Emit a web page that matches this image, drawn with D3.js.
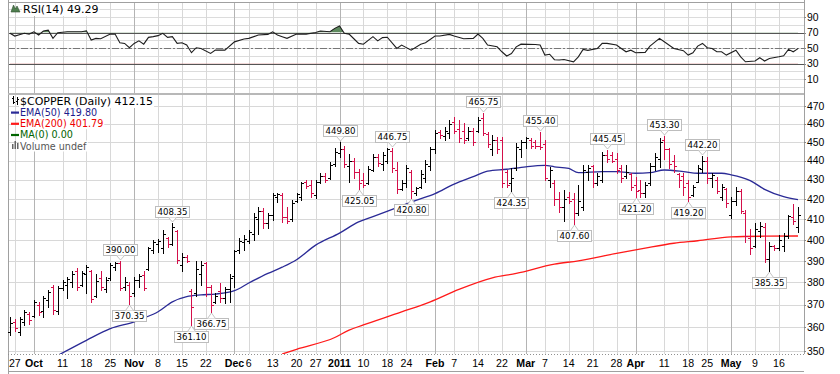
<!DOCTYPE html>
<html>
<head>
<meta charset="utf-8">
<script src="https://cdn.jsdelivr.net/npm/d3@7"></script>
<style>
  body { margin: 0; background: #fff; }
  svg { display: block; }
</style>
</head>
<body>
<script>
// $COPPER daily OHLC, Sep 24 2010 .. May 20 2011

var startDay = '2010-09-24', endDay = '2011-05-20';
var holidays = ['2010-11-25', '2010-12-24', '2011-01-17', '2011-02-21', '2011-04-22'];

var opens = [358,362.5,358,362.5,366,365,370,367,372,378,367,377.5,379,380,385,379,384,385,374,382,
  377,382,387,389,378,379,375,381,383.5,386,395,398,396,401,398,404,388,392,376,375,
  384,389,378,371,376,373,377,383,395,399,399.5,403,410,414,408,412,421,422,411,410,
  419,421,429,427,422,429,432,431,438,444,446,437,440,434,430,428,435,442,438,440,
  445,435,425,428,434,423,426,431,437,446,455.5,453,455,461,457,456,452,456,456,463,
  454,446,451,451,434,428,436,446,450,451,450,448,449,430,428,420,416,421,420,413,
  416,434,437,428,430,443,443,441,436,432,433,427,424.5,423,428,437,441,451,446,440,
  433,432,428,422,429,435.5,440,431,430,421,425,412,419,424,413,401,397,404,406,391,
  397,396,397,402,411,406];
var highs = [364.5,363.5,364.5,367.5,366.5,372,371,374,376.5,379,378.5,381,382.5,385,386.5,385,388,385.5,384,385,
  382.5,389,389.6,390,382.5,380,382.5,384,385,396.6,400,400.5,404.7,401.5,408.35,404.7,393.5,392.5,377,389.8,
  389.8,389.5,379,375,379.5,378,384,395,401,402.5,404.7,413,416,415.5,413,423,423,423,416,419.6,
  423,429,430,430,430,433.5,433.5,439,446.5,449.8,447.5,443.5,441.5,435.5,433.5,437,443.5,443.5,444.5,446.5,
  446.75,439.4,429.8,437.6,435,426.4,435,440.3,447.4,456.5,456.5,458.3,462,463.8,462,460.2,458.3,457.4,463.8,465.75,
  455.5,453.7,452.8,452.8,435,435.9,449.2,451,452.8,452,451,455.4,451,436.7,430,423.8,424.7,423.8,423,427.2,
  437.6,437.6,437.5,433.3,444.7,445.45,444.7,443.8,437.6,437.6,433.5,431.5,429.8,429,438.5,443.8,451.9,453.3,446.5,443,
  433.5,433.3,429.8,427.2,437.6,442.2,442,433.5,431.5,427.8,425.5,421.3,426.4,425.2,414.5,405,408,408.7,408,399,
  397.5,402.3,403.1,412,417.5,416];
var lows = [356.7,358.5,356.5,361,361.5,364.5,365.5,364.5,369,366,366,376.5,373,378,376.5,378.5,375,371,373.5,376.5,
  375.5,381,385.5,376.5,376.5,370.35,374,378,376.5,385.5,393.5,394,393.5,396.6,397.5,388.8,385,389.6,361.1,373.6,
  378.7,374,366.75,370.5,371,370.5,371,378,393.5,395,398.3,400,403,405.5,405.5,409.6,418.8,408.7,408,409,
  418.5,419.6,425.5,421,420.5,428.5,429,430.5,437,441.8,436.5,429,431,425.05,426,427.5,434.5,437,435,438.5,
  434,423,424.7,426.4,420.8,422,425.5,429,435,443.8,452,451,452,454.6,450,449.2,451,448.3,455.5,453.7,
  447.4,442.9,443.8,426.4,426.4,424.35,435,442,446.5,446.5,446.5,446,429.8,426.4,417,413.7,409.1,418,407.6,412,
  414.5,429.8,426.4,427.2,428.9,439.4,439.4,433.3,428.9,430.7,424.7,421.2,421.3,421.3,427.2,435,436.7,441,435.9,434,
  426.4,422,419.2,421.5,428.9,434.2,428,426.4,423,419.6,416.2,410.4,417.1,412.9,399,393,396.7,401.5,389.6,385.35,
  395.2,395.2,394.4,401,407.5,403.5];
var closes = [362,359.5,363.5,366.5,363,371,366.5,373,375.5,367.5,377.5,380,381.5,384,378,384.5,387,372.5,380.5,378,
  381,388,389,377.5,380,374,381,383,377.5,396,399,399.5,403,398,406,390.5,392,390,369,386,
  388,378,370,374,373,377,382,394.5,399.5,400.5,403.5,411,414,408,412,422,422.5,411,409,418,
  422.5,428.5,426.5,423,429,432,430,437.5,444.5,446,438,440,434,428,427,435.5,442,438.5,443,446,
  436,425,428.5,436,424,425.5,433,438,446,455,453.5,456,460,456,452,451,456,450,462,455,
  449,451,446,428,427,431,447,450,452,448,447.5,447,431,435,420,416,420,419,413,419,
  435,436,428,432,443,441,440,435,431,434,426,424,423,427,437,442,450,446,438,437,
  430,426,421,426,436,440,431,432.5,424,426,418,419,424,414,402,396,405,406.5,391,397,
  396,400,402,411.5,409,412.15];

var ema50At = [10,16,21,26,28,31,34,37,40,43,47,50,54,57,60,64,69,73,76,81,85,89,93,97,100,104,108,112,114,117,119,124,127,131,134,137,141,144,149,151,155,158,162,165];
var ema50Val = [348,354.4,359.4,362.4,364,366.8,371.2,373.5,374.3,374.7,376.2,379.7,384.1,387,390.5,397.4,403.2,408.7,411.3,415.8,419.4,422.8,427.7,431.5,434.4,435.4,436.7,437.4,436.7,435.8,433.6,434.2,434.2,433.3,433.6,435,434.2,433.3,433.3,432.5,429.5,425,421.3,419.8];

var ema200At = [57,60,68,71,74,82,88,94,101,106,114,119,127,133,139,144,151,158,165];
var ema200Val = [348.6,350.6,355.6,358.8,361,366.7,371.2,376.8,382.1,384.1,388.4,390,393.5,396,398.3,399.5,401.4,401.7,401.79];

var rsiAt = [0,1,3,4,5,6,7,8,9,10,12,14,15,16,17,18,19,21,22,23,24,25,26,27,28,29,30,31,32,33,34,35,36,37,38,39,40,42,43,45,
  47,49,50,52,54,55,56,57,58,60,62,64,65,67,68,69,70,71,72,73,74,76,77,78,79,81,82,84,86,87,89,90,92,93,95,97,98,99,100,102,
  103,104,105,106,107,110,111,112,113,114,115,116,118,119,120,121,123,124,125,127,128,129,130,131,133,134,136,137,139,141,142,143,144,145,146,147,148,149,150,152,
  153,154,156,157,158,159,161,162,163,164,165];
var rsiVal = [69,65.5,69,68,71,66.8,72,73,62.5,69.8,71,71,71,72.3,60.3,62.5,62,68,68,56.9,56,50.4,56,59.3,55,63.8,64.7,66,69,63.8,64.7,56,56.9,53.9,44,50.4,49.5,43,47.3,47.3,
  58,61.7,62.5,66.8,67.6,71,66.8,64.6,62.5,68,68,70,72,71,75.4,78.4,69,68,62,56,55,64.7,59.3,63.5,64,49.5,53.9,47.3,55,56.9,65.5,65.5,67.6,65.5,62,62.5,68,62.5,53.9,51.6,
  45.2,39.7,43,51.6,55,54.6,53.9,41,42,35,34.5,35.3,32.3,38.7,48.3,47,49.5,56,56,53.9,49.5,45.2,47.3,44,44.4,52.5,62.5,58.2,49.5,46.6,40.9,44,52.5,56,50.4,49.5,45.2,45.2,40.9,47.3,
  38.7,32.3,33.2,37.5,33.2,36.6,38.7,40,48.3,45.2,49.29];

var tickDays = ['2010-09-27','2010-10-01','2010-10-11','2010-10-18','2010-10-25','2010-11-01','2010-11-08','2010-11-15','2010-11-22',
  '2010-12-01','2010-12-06','2010-12-13','2010-12-20','2010-12-27','2011-01-03','2011-01-10','2011-01-18','2011-01-24',
  '2011-02-01','2011-02-07','2011-02-14','2011-02-22','2011-03-01','2011-03-07','2011-03-14','2011-03-21','2011-03-28',
  '2011-04-01','2011-04-11','2011-04-18','2011-04-25','2011-05-02','2011-05-09','2011-05-16'];
var tickLabels = ['27','Oct','11','18','25','Nov','8','15','22','Dec','6','13','20','27','2011','10','18','24',
  'Feb','7','14','22','Mar','7','14','21','28','Apr','11','18','25','May','9','16'];

var priceTicks = [350,360,370,380,390,400,410,420,430,440,450,460,470];
var rsiTicks = [10,30,50,70,90];

// labelled swing highs (h) and lows (l), by bar
var noteAt = [23,25,34,38,42,69,73,80,84,99,105,111,118,125,131,137,142,145,159];
var noteSide = ['h','l','h','l','l','h','l','h','l','h','l','h','l','h','l','h','l','h','l'];

var emaNames = ['EMA(50)', 'EMA(200)'];

// ---------------------------------------------------------------

var parse = d3.utcParse('%Y-%m-%d'), fmt = d3.utcFormat('%Y-%m-%d');
var days = d3.utcDay.range(parse(startDay), d3.utcDay.offset(parse(endDay), 1))
  .filter(function(d) { return d.getUTCDay() % 6 !== 0 && holidays.indexOf(fmt(d)) < 0; })
  .map(fmt);
var n = closes.length;

var left = 8, right = 804;
var rsiTop = 2, rsiBottom = 94, mainTop = 94, mainBottom = 354;

var x = d3.scaleLinear().domain([0, n - 1]).range([10, 798]);
var y = d3.scaleLog().domain([350, 470]).range([350.7, 105.7]);
var ry = d3.scaleLinear().domain([0, 100]).range([86.8, 9.3]);

var svg = d3.select('body').append('svg')
  .attr('width', 840).attr('height', 374);

var defs = svg.append('defs');
defs.append('clipPath').attr('id', 'clipMain').append('rect')
  .attr('x', left).attr('y', mainTop).attr('width', right - left).attr('height', mainBottom - mainTop);
defs.append('clipPath').attr('id', 'clipHi').append('rect')
  .attr('x', left).attr('y', rsiTop).attr('width', right - left).attr('height', ry(70) - rsiTop);
defs.append('clipPath').attr('id', 'clipLo').append('rect')
  .attr('x', left).attr('y', ry(30)).attr('width', right - left).attr('height', rsiBottom - ry(30));

var crisp = function(v) { return Math.round(v) + 0.5; };

// grid
var grid = svg.append('g').attr('shape-rendering', 'crispEdges');
var tickIdx = tickDays.map(function(d) { return days.indexOf(d); });
var isMajor = function(lbl) { return isNaN(+lbl) || lbl.length === 4; };

grid.selectAll('line.rg').data(d3.range(0, 101, 10)).join('line')
  .attr('class', 'rg')
  .attr('x1', left).attr('x2', right)
  .attr('y1', function(d) { return crisp(ry(d)); }).attr('y2', function(d) { return crisp(ry(d)); })
  .attr('stroke', '#dcdcdc');

grid.selectAll('line.pg').data(priceTicks).join('line')
  .attr('class', 'pg')
  .attr('x1', left).attr('x2', right)
  .attr('y1', function(d) { return crisp(y(d)); }).attr('y2', function(d) { return crisp(y(d)); })
  .attr('stroke', '#d8d8d8');

grid.selectAll('line.vg').data(tickIdx).join('line')
  .attr('class', 'vg')
  .attr('x1', function(d) { return crisp(x(d)); }).attr('x2', function(d) { return crisp(x(d)); })
  .attr('y1', rsiTop).attr('y2', mainBottom)
  .attr('stroke', function(d, i) { return isMajor(tickLabels[i]) ? '#b4b4b4' : '#d8d8d8'; });

// rsi reference lines
grid.selectAll('line.rl').data([70, 30]).join('line')
  .attr('class', 'rl')
  .attr('x1', left).attr('x2', right)
  .attr('y1', function(d) { return crisp(ry(d)); }).attr('y2', function(d) { return crisp(ry(d)); })
  .attr('stroke', '#555');
grid.append('line')
  .attr('x1', left).attr('x2', right)
  .attr('y1', crisp(ry(50))).attr('y2', crisp(ry(50)))
  .attr('stroke', '#777').attr('stroke-dasharray', '7,2,2,2');

// frame
var frame = svg.append('g').attr('shape-rendering', 'crispEdges').attr('fill', 'none');
frame.append('line').attr('x1', left + 0.5).attr('x2', left + 0.5).attr('y1', 0).attr('y2', 374).attr('stroke', '#a0a0a0');
frame.append('line').attr('x1', right + 0.5).attr('x2', right + 0.5).attr('y1', 0).attr('y2', mainBottom).attr('stroke', '#a0a0a0');
frame.append('line').attr('x1', left).attr('x2', right).attr('y1', rsiTop + 0.5).attr('y2', rsiTop + 0.5).attr('stroke', '#a0a0a0');
frame.append('rect').attr('x', left).attr('y', rsiBottom - 1).attr('width', right - left).attr('height', 2).attr('fill', '#b8b8b8');
frame.append('line').attr('x1', left).attr('x2', right).attr('y1', mainBottom + 0.5).attr('y2', mainBottom + 0.5)
  .attr('stroke', '#909090').attr('stroke-dasharray', '1,2');
frame.append('line').attr('x1', left).attr('x2', right).attr('y1', 371.5).attr('y2', 371.5).attr('stroke', '#a0a0a0');

// rsi
var rsiPts = rsiAt.map(function(d, i) { return [d, rsiVal[i]]; });
var rsiArea = d3.area().x(function(d) { return x(d[0]); }).y1(function(d) { return ry(d[1]); });
svg.append('path').datum(rsiPts)
  .attr('d', rsiArea.y0(ry(70)))
  .attr('clip-path', 'url(#clipHi)')
  .attr('fill', '#5f8a5f');
svg.append('path').datum(rsiPts)
  .attr('d', rsiArea.y0(ry(30)))
  .attr('clip-path', 'url(#clipLo)')
  .attr('fill', '#c86464');
svg.append('path').datum(rsiPts)
  .attr('d', d3.line().x(function(d) { return x(d[0]); }).y(function(d) { return ry(d[1]); }))
  .attr('fill', 'none').attr('stroke', '#1e1e1e').attr('stroke-width', 1.1);

// moving averages
var maLine = d3.line().x(function(d) { return x(d[0]); }).y(function(d) { return y(d[1]); }).curve(d3.curveMonotoneX);
var ma = svg.append('g').attr('clip-path', 'url(#clipMain)').attr('fill', 'none').attr('stroke-width', 1.3);
ma.append('path').datum(ema200At.map(function(d, i) { return [d, ema200Val[i]]; }))
  .attr('d', maLine).attr('stroke', '#ff1a1a');
ma.append('path').datum(ema50At.map(function(d, i) { return [d, ema50Val[i]]; }))
  .attr('d', maLine).attr('stroke', '#2a2a96');

// ohlc bars
svg.append('g').attr('shape-rendering', 'crispEdges').attr('fill', 'none')
  .selectAll('path').data(d3.range(n)).join('path')
  .attr('d', function(i) {
    var bx = crisp(x(i));
    var yo = crisp(y(opens[i])), yc = crisp(y(closes[i]));
    return 'M' + bx + ',' + Math.round(y(highs[i])) + 'V' + (Math.round(y(lows[i])) + 1) +
      'M' + (bx - 2.5) + ',' + yo + 'H' + bx +
      'M' + bx + ',' + yc + 'H' + (bx + 2.5);
  })
  .attr('stroke', function(i) { return i > 0 && closes[i] < closes[i - 1] ? '#d40f4a' : '#000'; });

// swing labels
var notes = svg.append('g').attr('font-family', 'DejaVu Sans, Verdana, sans-serif').attr('font-size', 8.6);
noteAt.forEach(function(i, k) {
  var hi = noteSide[k] === 'h';
  var v = hi ? highs[i] : lows[i];
  var cx = crisp(x(i)), py = y(v);
  var g = notes.append('g');
  var t = g.append('text').text(v.toFixed(2)).attr('x', cx).attr('text-anchor', 'middle');
  var w = t.node().getComputedTextLength() + 4, h = 11;
  var by = hi ? Math.round(py) - 6 - h : Math.round(py) + 6;
  g.insert('rect', 'text')
    .attr('x', Math.round(cx - w / 2) + 0.5).attr('y', by + 0.5)
    .attr('width', Math.round(w)).attr('height', h)
    .attr('fill', '#fff').attr('stroke', '#bdbdbd');
  var tipY = hi ? Math.round(py) - 1 : Math.round(py) + 1;
  var baseY = hi ? by + h + 0.5 : by + 0.5;
  g.insert('path', 'text')
    .attr('d', 'M' + (cx - 4) + ',' + baseY + 'L' + cx + ',' + tipY + 'L' + (cx + 4) + ',' + baseY)
    .attr('fill', '#fff').attr('stroke', '#c4c4c4');
  t.attr('y', by + 8.8).attr('fill', '#000');
});

// right axis labels
var axisFont = 'Liberation Sans, Arial, sans-serif';
var ax = svg.append('g').attr('font-family', axisFont).attr('font-size', 10.4).attr('fill', '#000');
ax.selectAll('text.p').data(priceTicks).join('text')
  .attr('class', 'p')
  .attr('x', right + 3).attr('y', function(d) { return y(d) + 3.8; })
  .text(function(d) { return d; });
ax.selectAll('text.r').data(rsiTicks).join('text')
  .attr('class', 'r')
  .attr('x', right + 3).attr('y', function(d) { return ry(d) + 3.8; })
  .text(function(d) { return d; });
svg.append('g').attr('stroke', '#888').attr('shape-rendering', 'crispEdges')
  .selectAll('line').data(priceTicks.map(y).concat(rsiTicks.map(ry))).join('line')
  .attr('x1', right).attr('x2', right + 2)
  .attr('y1', function(d) { return crisp(d); }).attr('y2', function(d) { return crisp(d); });

// date labels
svg.append('g').attr('font-family', axisFont).attr('font-size', 10.6)
  .selectAll('text').data(tickIdx).join('text')
  .attr('x', function(d) { return x(d); }).attr('y', 367)
  .attr('text-anchor', 'middle')
  .attr('font-weight', function(d, i) { return isMajor(tickLabels[i]) ? 'bold' : 'normal'; })
  .text(function(d, i) { return tickLabels[i]; });

// legends
var lg = svg.append('g').attr('font-family', 'DejaVu Sans, Verdana, sans-serif');
function legendText(tx, ty, size, color, str) {
  var t = lg.append('text').attr('x', tx).attr('y', ty).attr('font-size', size).attr('fill', color).text(str);
  var b = t.node().getBBox();
  lg.insert('rect', 'text').attr('x', b.x - 1).attr('y', b.y).attr('width', b.width + 2).attr('height', b.height).attr('fill', '#fff');
  return t;
}
legendText(23, 13, 11, '#000', 'RSI(14) ' + rsiVal[rsiVal.length - 1].toFixed(2));
lg.append('path').attr('d', 'M11,12L13.5,5L15.5,9L17,6L20,12Z').attr('fill', '#4f7f4f').attr('stroke', '#2f4f2f').attr('stroke-width', 0.6);

legendText(20, 105, 11, '#000', '$COPPER (Daily) ' + closes[n - 1].toFixed(2));
lg.append('path').attr('d', 'M13.5,96V104M12,98H13.5M13.5,102H15M17.5,97V105M16,101H17.5M17.5,99H19')
  .attr('stroke', '#000').attr('fill', 'none').attr('shape-rendering', 'crispEdges');

var legendRows = [
  [emaNames[0] + ' ' + ema50Val[ema50Val.length - 1].toFixed(2), '#1c1c8c', '#2a2a96'],
  [emaNames[1] + ' ' + ema200Val[ema200Val.length - 1].toFixed(2), '#ee0000', '#ff1a1a'],
  ['MA(0) 0.00', '#006400', '#006400']
];
legendRows.forEach(function(r, k) {
  var ty = 116 + k * 11.2;
  legendText(20, ty, 9.6, r[1], r[0]);
  lg.append('rect').attr('x', 11).attr('y', ty - 4.5).attr('width', 8).attr('height', 2.2).attr('fill', r[2]);
});
legendText(20, 149.5, 9.6, '#555', 'Volume undef');
lg.append('path').attr('d', 'M12,149V144H13.5V149M14.5,149V141H16V149M17,149V143H18.5V149Z').attr('fill', '#666');
</script>
</body>
</html>
